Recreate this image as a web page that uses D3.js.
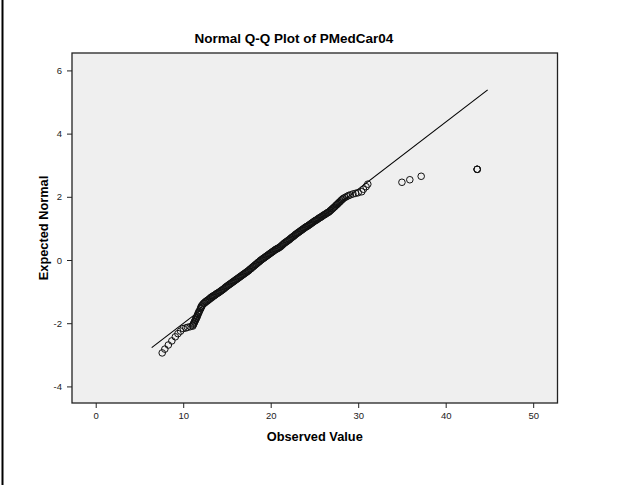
<!DOCTYPE html>
<html>
<head>
<meta charset="utf-8">
<script src="https://cdn.jsdelivr.net/npm/d3@7"></script>
<style>
  body { margin: 0; background: #fff; }
  svg { display: block; }
  text { font-family: "Liberation Sans", Arial, sans-serif; }
</style>
</head>
<body>
<svg id="chart" width="621" height="487"></svg>
<script>
// Chart texts
const chartTitle = "Normal Q-Q Plot of PMedCar04";
const xAxisTitle = "Observed Value";
const yAxisTitle = "Expected Normal";

// Tick labels
const xTickValues = [0, 10, 20, 30, 40, 50];
const yTickValues = [-4, -2, 0, 2, 4, 6];

// Sample points: observed value and its expected normal score (paired by index)
const observedValue = [
  7.6, 7.9, 8.3, 8.7, 9.1, 9.4, 9.7, 10.0, 10.3, 10.5, 10.8,
  11.1, 11.1, 11.2, 11.2, 11.3, 11.3, 11.4, 11.4, 11.5, 11.5, 11.6, 11.6, 11.7, 11.7,
  11.8, 11.8, 11.9, 12.0, 12.0, 12.1, 12.1, 12.2, 12.3, 12.4, 12.5, 12.6, 12.7,
  12.8, 12.9, 13.0, 13.1, 13.2, 13.3,
  13.4, 13.5, 13.6, 13.7, 13.8, 13.9, 14.0, 14.1, 14.2,
  14.3, 14.4, 14.5, 14.6, 14.7, 14.8, 14.9, 15.0, 15.1, 15.2, 15.3,
  15.4, 15.5, 15.6, 15.7, 15.8, 15.9, 16.0, 16.1, 16.2, 16.3, 16.4,
  16.5, 16.6, 16.7, 16.8, 16.9, 17.0, 17.1, 17.2, 17.3, 17.4,
  17.5, 17.6, 17.7, 17.8, 17.9, 18.0, 18.1, 18.2, 18.3, 18.4, 18.5, 18.6, 18.7, 18.8, 18.9,
  19.0, 19.1, 19.2, 19.3, 19.4, 19.5, 19.6, 19.7, 19.8, 19.9, 20.0, 20.1, 20.2, 20.3, 20.4, 20.5,
  20.6, 20.7, 20.8, 20.9, 21.0, 21.1, 21.2, 21.3, 21.4, 21.5, 21.6, 21.7, 21.8, 21.9,
  22.0, 22.1, 22.2, 22.3, 22.4, 22.5, 22.6, 22.7, 22.8, 22.9, 23.0,
  23.1, 23.2, 23.3, 23.4, 23.5, 23.6, 23.7, 23.8, 23.9, 24.0, 24.1, 24.2, 24.3, 24.4, 24.5, 24.6, 24.7, 24.8, 24.9,
  25.0, 25.1, 25.2, 25.3, 25.4, 25.5, 25.6, 25.7, 25.8, 25.9, 26.0, 26.1, 26.2, 26.3, 26.4, 26.5, 26.6, 26.7,
  26.8, 26.9, 27.0, 27.1, 27.2, 27.3, 27.4, 27.5, 27.6,
  27.7, 27.8, 27.9, 28.0, 28.1, 28.2, 28.3,
  28.5, 28.7, 28.9, 29.1, 29.4, 29.7, 30.0, 30.4, 30.6, 30.9, 31.1,
  35.0, 35.9, 37.2, 43.6, 43.6, 43.6
];
const expectedNormal = [
  -2.94, -2.82, -2.69, -2.56, -2.43, -2.33, -2.25, -2.17, -2.15, -2.13, -2.11,
  -2.09, -2.06, -2.03, -2.00, -1.97, -1.94, -1.91, -1.88, -1.85, -1.82, -1.79, -1.76, -1.72, -1.69,
  -1.66, -1.63, -1.59, -1.54, -1.51, -1.48, -1.45, -1.42, -1.38, -1.36, -1.33, -1.31, -1.29,
  -1.27, -1.25, -1.23, -1.20, -1.18, -1.16,
  -1.14, -1.13, -1.11, -1.09, -1.07, -1.05, -1.04, -1.02, -1.00,
  -0.98, -0.96, -0.94, -0.92, -0.90, -0.87, -0.85, -0.83, -0.81, -0.79, -0.77,
  -0.75, -0.73, -0.71, -0.69, -0.67, -0.65, -0.63, -0.61, -0.59, -0.57, -0.55,
  -0.53, -0.51, -0.49, -0.47, -0.45, -0.43, -0.41, -0.39, -0.37, -0.35,
  -0.33, -0.30, -0.28, -0.26, -0.23, -0.21, -0.19, -0.16, -0.14, -0.12, -0.09, -0.07, -0.05, -0.02, 0.00,
  0.02, 0.04, 0.06, 0.08, 0.10, 0.12, 0.14, 0.16, 0.18, 0.20, 0.22, 0.24, 0.26, 0.28, 0.30, 0.32,
  0.34, 0.35, 0.37, 0.38, 0.40, 0.42, 0.44, 0.47, 0.49, 0.52, 0.54, 0.56, 0.58, 0.60,
  0.62, 0.64, 0.66, 0.69, 0.71, 0.73, 0.75, 0.77, 0.80, 0.82, 0.84,
  0.86, 0.88, 0.90, 0.92, 0.94, 0.96, 0.98, 1.00, 1.02, 1.04, 1.06, 1.07, 1.09, 1.11, 1.13, 1.15, 1.17, 1.19, 1.21,
  1.23, 1.25, 1.26, 1.28, 1.30, 1.32, 1.34, 1.35, 1.37, 1.39, 1.41, 1.43, 1.44, 1.46, 1.48, 1.50, 1.51, 1.53,
  1.56, 1.58, 1.61, 1.63, 1.66, 1.68, 1.71, 1.74, 1.76,
  1.79, 1.82, 1.84, 1.87, 1.90, 1.92, 1.95,
  1.98, 2.01, 2.04, 2.06, 2.09, 2.11, 2.13, 2.16, 2.24, 2.32, 2.40,
  2.46, 2.54, 2.65, 2.87, 2.87, 2.87
];

// Normal reference line: expected = (observed - lineMean) / lineSd
const lineMean = 19.45;
const lineSd = 4.71;
const lineObservedRange = [6.4, 44.8];

const svg = d3.select("#chart");

// Left frame rule of the output page
svg.append("line")
  .attr("x1", 2.5).attr("x2", 2.5)
  .attr("y1", 0).attr("y2", 485)
  .attr("stroke", "#000").attr("stroke-width", 2);

const plot = { left: 72, right: 557.5, top: 53, bottom: 403 };

const x = d3.scaleLinear().domain([-2.71, 52.78]).range([plot.left, plot.right]);
const y = d3.scaleLinear().domain([-4.525, 6.551]).range([plot.bottom, plot.top]);

// Plot background
svg.append("rect")
  .attr("x", plot.left).attr("y", plot.top)
  .attr("width", plot.right - plot.left)
  .attr("height", plot.bottom - plot.top)
  .attr("fill", "#efefef");

// Axes
const xAxis = svg.append("g")
  .attr("transform", `translate(0,${plot.bottom})`)
  .call(d3.axisBottom(x).tickValues(xTickValues).tickSize(5).tickPadding(4).tickFormat(d3.format("d")));
const yAxis = svg.append("g")
  .attr("transform", `translate(${plot.left},0)`)
  .call(d3.axisLeft(y).tickValues(yTickValues).tickSize(5).tickPadding(5).tickFormat(d => d < 0 ? "-" + Math.abs(d) : String(d)));

[xAxis, yAxis].forEach(g => {
  g.select(".domain").remove();
  g.selectAll(".tick line").attr("stroke", "#222");
  g.selectAll(".tick text")
    .attr("fill", "#222")
    .style("font-size", "9.5px")
    .style("font-family", "\"Liberation Sans\", Arial, sans-serif");
});

// Plot frame
svg.append("rect")
  .attr("x", plot.left).attr("y", plot.top)
  .attr("width", plot.right - plot.left)
  .attr("height", plot.bottom - plot.top)
  .attr("fill", "none")
  .attr("stroke", "#222")
  .attr("stroke-width", 1.3);

// Reference line
const lineData = lineObservedRange.map(v => ({ obs: v, exp: (v - lineMean) / lineSd }));
svg.append("path")
  .datum(lineData)
  .attr("fill", "none")
  .attr("stroke", "#000")
  .attr("stroke-width", 1.1)
  .attr("d", d3.line().x(d => x(d.obs)).y(d => y(d.exp)));

// Sample points
const points = observedValue.map((v, i) => ({ obs: v, exp: expectedNormal[i] }));
svg.append("g")
  .selectAll("circle")
  .data(points)
  .join("circle")
  .attr("cx", d => x(d.obs))
  .attr("cy", d => y(d.exp))
  .attr("r", 3.3)
  .attr("fill", "none")
  .attr("stroke", "#111")
  .attr("stroke-width", 1);

// Titles
svg.append("text")
  .attr("x", 294).attr("y", 43)
  .attr("text-anchor", "middle")
  .style("font-size", "13.5px").style("font-weight", "bold")
  .text(chartTitle);

svg.append("text")
  .attr("x", (plot.left + plot.right) / 2).attr("y", 441)
  .attr("text-anchor", "middle")
  .style("font-size", "12.8px").style("font-weight", "bold")
  .text(xAxisTitle);

svg.append("text")
  .attr("transform", `translate(48,${(plot.top + plot.bottom) / 2}) rotate(-90)`)
  .attr("text-anchor", "middle")
  .style("font-size", "12.8px").style("font-weight", "bold")
  .text(yAxisTitle);
</script>
</body>
</html>
